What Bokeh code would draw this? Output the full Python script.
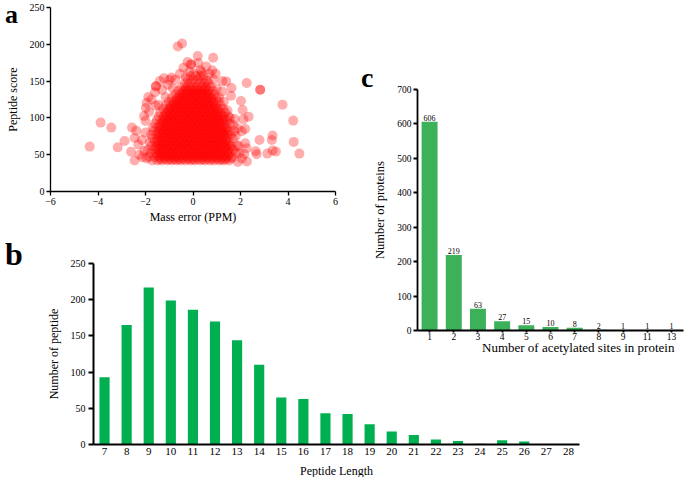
from bokeh.plotting import figure
from bokeh.models import FixedTicker, FactorRange, Range1d, Div
from bokeh.embed import file_html
from bokeh.resources import INLINE
from bokeh.core.properties import value

SERIF = "Liberation Serif"

# ---------------- panel a: mass error vs peptide score ----------------
core_rows = {
    42: [-1.72, -1.5, -1.31, -1.08, -0.9, -0.7, -0.52, -0.31, -0.1, 0.08, 0.3, 0.49, 0.71, 0.9, 1.12, 1.3, 1.52],
    47: [-1.85, -1.62, -1.41, -1.2, -1.01, -0.8, -0.61, -0.4, -0.2, 0.01, 0.19, 0.41, 0.6, 0.82, 1.0, 1.21, 1.42, 1.63],
    52: [-1.78, -1.55, -1.35, -1.12, -0.93, -0.72, -0.5, -0.29, -0.08, 0.12, 0.33, 0.52, 0.74, 0.93, 1.14, 1.33, 1.55, 1.8],
    57: [-1.9, -1.66, -1.44, -1.24, -1.03, -0.82, -0.6, -0.41, -0.19, 0.02, 0.22, 0.43, 0.63, 0.85, 1.04, 1.25, 1.47, 1.7],
    62: [-1.75, -1.53, -1.33, -1.1, -0.9, -0.7, -0.49, -0.28, -0.07, 0.13, 0.34, 0.55, 0.75, 0.96, 1.16, 1.38, 1.6, 1.92],
    67: [-1.82, -1.6, -1.38, -1.18, -0.97, -0.78, -0.56, -0.36, -0.15, 0.05, 0.26, 0.46, 0.67, 0.88, 1.08, 1.3, 1.52],
    72: [-1.7, -1.48, -1.28, -1.05, -0.86, -0.64, -0.44, -0.23, -0.02, 0.18, 0.39, 0.6, 0.8, 1.01, 1.22, 1.43, 1.68],
    77: [-1.76, -1.55, -1.34, -1.13, -0.92, -0.71, -0.5, -0.3, -0.09, 0.11, 0.32, 0.52, 0.73, 0.94, 1.15, 1.36, 1.58],
    82: [-1.65, -1.43, -1.22, -1.0, -0.8, -0.59, -0.38, -0.17, 0.03, 0.24, 0.45, 0.66, 0.87, 1.07, 1.28, 1.5, 1.75],
    87: [-1.7, -1.49, -1.27, -1.07, -0.86, -0.65, -0.45, -0.24, -0.04, 0.17, 0.38, 0.58, 0.79, 1.0, 1.21, 1.42],
    92: [-1.6, -1.38, -1.17, -0.96, -0.75, -0.54, -0.33, -0.13, 0.08, 0.29, 0.5, 0.71, 0.92, 1.12, 1.33, 1.56],
    97: [-1.52, -1.3, -1.1, -0.89, -0.68, -0.47, -0.26, -0.05, 0.15, 0.36, 0.57, 0.78, 0.99, 1.2, 1.42],
    102: [-1.45, -1.24, -1.03, -0.82, -0.61, -0.4, -0.19, 0.02, 0.22, 0.43, 0.64, 0.85, 1.06, 1.27, 1.5],
    107: [-1.38, -1.16, -0.95, -0.74, -0.53, -0.32, -0.11, 0.1, 0.31, 0.52, 0.73, 0.94, 1.15, 1.36],
    112: [-1.25, -1.04, -0.83, -0.62, -0.41, -0.2, 0.01, 0.22, 0.43, 0.64, 0.85, 1.06, 1.28],
    117: [-1.15, -0.94, -0.73, -0.52, -0.31, -0.1, 0.11, 0.32, 0.53, 0.74, 0.95, 1.17],
    122: [-1.02, -0.81, -0.6, -0.39, -0.18, 0.03, 0.24, 0.45, 0.66, 0.87, 1.08],
    127: [-0.9, -0.69, -0.48, -0.27, -0.06, 0.15, 0.36, 0.57, 0.78, 0.98],
    132: [-0.75, -0.54, -0.33, -0.12, 0.09, 0.3, 0.51, 0.72, 0.9],
    137: [-0.62, -0.41, -0.2, 0.01, 0.22, 0.43, 0.64, 0.84],
    142: [-0.48, -0.27, -0.06, 0.15, 0.36, 0.57, 0.75],
    147: [-0.35, -0.14, 0.07, 0.28, 0.49, 0.66],
    152: [-0.22, 0.0, 0.21, 0.42],
    157: [-0.1, 0.12, 0.32],
}

inner_rows = {
    44: [-1.4, -1.19, -0.98, -0.79, -0.6, -0.41, -0.2, 0.0, 0.2, 0.4, 0.6, 0.8, 1.02, 1.21, 1.4],
    49: [-1.5, -1.3, -1.1, -0.9, -0.7, -0.5, -0.3, -0.1, 0.1, 0.3, 0.5, 0.7, 0.9, 1.1, 1.31, 1.5],
    54: [-1.45, -1.24, -1.03, -0.83, -0.62, -0.4, -0.19, 0.02, 0.23, 0.43, 0.64, 0.84, 1.04, 1.24, 1.44],
    59: [-1.55, -1.34, -1.14, -0.93, -0.71, -0.5, -0.3, -0.09, 0.12, 0.32, 0.53, 0.73, 0.95, 1.15, 1.36, 1.58],
    64: [-1.43, -1.22, -1.0, -0.8, -0.6, -0.39, -0.18, 0.03, 0.24, 0.44, 0.65, 0.86, 1.06, 1.27, 1.48],
    69: [-1.5, -1.28, -1.07, -0.87, -0.66, -0.46, -0.25, -0.05, 0.16, 0.36, 0.57, 0.77, 0.98, 1.19, 1.4],
    74: [-1.38, -1.17, -0.96, -0.75, -0.54, -0.33, -0.12, 0.08, 0.29, 0.5, 0.7, 0.91, 1.12, 1.32],
    79: [-1.45, -1.24, -1.03, -0.82, -0.61, -0.4, -0.2, 0.01, 0.21, 0.42, 0.62, 0.83, 1.04, 1.25, 1.46],
    84: [-1.33, -1.12, -0.91, -0.7, -0.49, -0.28, -0.07, 0.13, 0.34, 0.55, 0.76, 0.97, 1.17, 1.38],
    89: [-1.38, -1.17, -0.96, -0.75, -0.55, -0.34, -0.14, 0.07, 0.27, 0.48, 0.69, 0.89, 1.1, 1.31],
    94: [-1.27, -1.06, -0.85, -0.64, -0.43, -0.23, -0.02, 0.19, 0.39, 0.6, 0.81, 1.02, 1.23],
    99: [-1.2, -0.99, -0.78, -0.57, -0.36, -0.15, 0.05, 0.26, 0.47, 0.67, 0.88, 1.09, 1.3],
    104: [-1.13, -0.92, -0.71, -0.5, -0.29, -0.08, 0.12, 0.33, 0.54, 0.75, 0.96, 1.16],
    109: [-1.05, -0.84, -0.63, -0.42, -0.21, 0.0, 0.2, 0.41, 0.62, 0.83, 1.04],
    114: [-0.93, -0.72, -0.51, -0.3, -0.09, 0.12, 0.33, 0.54, 0.75, 0.96],
    119: [-0.83, -0.62, -0.41, -0.2, 0.01, 0.22, 0.43, 0.64, 0.85],
    124: [-0.7, -0.49, -0.28, -0.07, 0.14, 0.35, 0.56, 0.77],
    129: [-0.58, -0.37, -0.16, 0.05, 0.26, 0.47, 0.68],
    134: [-0.44, -0.23, -0.02, 0.19, 0.4, 0.6],
    139: [-0.3, -0.09, 0.12, 0.33, 0.52],
}

outer_x = [-4.35, -3.89, -3.44, -3.17, -2.88, -2.61, -2.57, -2.46, -2.39, -2.30, -2.46, -2.13,
           -2.06, -1.99, -1.88, -1.95, -1.56, -1.56, -1.57, -1.22, -1.0, -0.64, -0.46, -0.23,
           -0.08, -0.08, 0.20, 0.22, 0.85, 0.81, 0.37, 0.05, 0.86, 1.24, 1.40, 1.62, 1.23,
           2.26, 2.83, 2.83, 2.02, 3.77, 2.09, 2.34, 2.12, 1.76, 4.22, 1.88, 2.20, 2.05, 2.80,
           3.35, 3.32, 4.24, 2.20, 2.26, 2.16, 2.27, 2.64, 2.68, 3.13, 3.35, 3.49, 4.48, 1.89,
           1.62,
           -2.0, -1.85, -1.75, -1.6, -1.45, -1.3, -1.15, -1.05, -0.85, -0.75, -0.55, -0.4,
           -0.3, -0.15, 0.45, 0.6, 0.7, 1.0, 1.1, 1.3, 1.45, 1.55, 1.7, 1.8, 1.85, 1.95, 2.05,
           -2.05, -2.15, -2.0, -1.95, -2.25, 1.6, 0.95, -0.9, -1.4, 0.55, 0.3]
outer_y = [61, 93.6, 86.8, 60, 68.7, 54, 86.8, 72.8, 82.7, 63.7, 42, 46.6,
           102.6, 113.5, 128.4, 120.7, 142.9, 142.9, 116.6, 154, 151.4, 197, 201, 176,
           172.7, 172.7, 184, 174.5, 181.7, 164.6, 162.7, 160, 152.3, 150, 149.6, 140.6, 136,
           147.4, 138.3, 138.3, 123, 118, 110.8, 101.7, 98, 98.6, 96.3, 85.9, 85, 81.8, 70,
           76, 70, 67.4, 65.6, 58.8, 51, 40.7, 54.7, 50.6, 51.5, 55.6, 54.2, 51.5, 40.2,
           45,
           96, 108, 125, 135, 118, 138, 128, 145, 140, 152, 160, 168,
           155, 163, 158, 150, 160, 140, 128, 122, 110, 100, 90, 75, 62, 52, 45,
           55, 70, 80, 45, 50, 130, 160, 155, 150, 170, 165]

score_x = ([x for yy, xs in core_rows.items() for x in xs]
           + [x for yy, xs in inner_rows.items() for x in xs] + outer_x)
score_y = ([yy for yy, xs in core_rows.items() for x in xs]
           + [yy for yy, xs in inner_rows.items() for x in xs] + outer_y)

# ---------------- panel b: peptide length ----------------
pep_lengths = ["7", "8", "9", "10", "11", "12", "13", "14", "15", "16", "17", "18",
               "19", "20", "21", "22", "23", "24", "25", "26", "27", "28"]
pep_counts = [93, 165, 217, 199, 186, 170, 144, 110, 65, 63, 43, 42,
              28, 18, 13, 7, 5, 1, 6, 4, 0, 0]

# ---------------- panel c: acetylated sites per protein ----------------
site_labels = ["1", "2", "3", "4", "5", "6", "7", "8", "9", "11", "13"]
protein_counts = [606, 219, 63, 27, 15, 10, 8, 2, 1, 1, 1]


def style_axis(ax, lw, tick_size, label_size, tick_out, lab_standoff, ax_standoff):
    ax.axis_line_color = "black"
    ax.axis_line_width = lw
    ax.major_tick_line_color = "black"
    ax.major_tick_line_width = lw
    ax.major_tick_out = tick_out
    ax.major_tick_in = 0
    ax.minor_tick_line_color = None
    ax.major_label_text_font = SERIF
    ax.major_label_text_font_size = tick_size
    ax.major_label_text_color = "black"
    ax.major_label_standoff = lab_standoff
    ax.axis_label_text_font = SERIF
    ax.axis_label_text_font_style = "normal"
    ax.axis_label_text_font_size = label_size
    ax.axis_label_text_color = "black"
    ax.axis_label_standoff = ax_standoff


def base(p, left, top):
    p.grid.visible = False
    p.outline_line_color = None
    p.background_fill_color = None
    p.border_fill_color = None
    p.styles = {"position": "absolute", "left": f"{left}px", "top": f"{top}px"}


def text_div(text, left, top, size, bold=False, line_height="1"):
    return Div(text=text, styles={
        "position": "absolute", "left": f"{left}px", "top": f"{top}px",
        "font-family": SERIF, "font-size": size, "line-height": line_height,
        "font-weight": "bold" if bold else "normal", "color": "black",
        "white-space": "nowrap", "margin": "0", "padding": "0",
        "overflow": "visible"})


# ----- figure a -----
pa = figure(frame_width=285, frame_height=184, min_border_left=50, min_border_right=10,
            min_border_top=7, min_border_bottom=34, x_range=Range1d(-6, 6), y_range=Range1d(0, 250),
            output_backend="svg", toolbar_location=None)
base(pa, 0, 0)
pa.scatter(score_x, score_y, size=10, fill_color="#ff0000", fill_alpha=0.32, line_color=None)
pa.xaxis.ticker = FixedTicker(ticks=[-6, -4, -2, 0, 2, 4, 6])
pa.yaxis.ticker = FixedTicker(ticks=[0, 50, 100, 150, 200, 250])
pa.xaxis.axis_label = "Mass error (PPM)"
pa.yaxis.axis_label = "Peptide score"
style_axis(pa.xaxis[0], 1.3, "10px", "12px", 4, 2, 2)
style_axis(pa.yaxis[0], 1.3, "10px", "12px", 4, 2, 7)

# ----- figure c -----
pc = figure(frame_width=266, frame_height=241, min_border_left=72, min_border_right=2,
            min_border_top=29, min_border_bottom=30,
            x_range=FactorRange(factors=site_labels, range_padding=0), y_range=Range1d(0, 700),
            output_backend="svg", toolbar_location=None)
base(pc, 345, 60)
pc.vbar(x=site_labels, top=protein_counts, width=0.66, fill_color="#3cb15a", line_color=None)
pc.text(x=site_labels, y=protein_counts, text=[str(v) for v in protein_counts],
        text_font=value(SERIF), text_font_size="8px", text_align="center",
        text_baseline="bottom", y_offset=-1, text_color="black")
pc.yaxis.ticker = FixedTicker(ticks=[0, 100, 200, 300, 400, 500, 600, 700])
pc.yaxis.axis_label = "Number of proteins"
style_axis(pc.xaxis[0], 1.8, "9.5px", "12px", 2, 0, 0)
style_axis(pc.yaxis[0], 1.8, "9.5px", "12.5px", 4, 2, 7)

# ----- figure b -----
pb = figure(frame_width=486, frame_height=181, min_border_left=93, min_border_right=6,
            min_border_top=38, min_border_bottom=33,
            x_range=FactorRange(factors=pep_lengths, range_padding=0), y_range=Range1d(0, 250),
            output_backend="svg", toolbar_location=None)
base(pb, 0, 225)
pb.vbar(x=pep_lengths, top=pep_counts, width=0.46, fill_color="#00b050", line_color=None)
pb.yaxis.ticker = FixedTicker(ticks=[0, 50, 100, 150, 200, 250])
pb.xaxis.axis_label = "Peptide Length"
pb.yaxis.axis_label = "Number of peptide"
style_axis(pb.xaxis[0], 2, "11px", "12px", 0, 3, 6)
pb.xaxis.major_tick_line_color = None
style_axis(pb.yaxis[0], 2, "10px", "12px", 5, 3, 7)

# ----- panel letters and the x label of panel c -----
letter_a = text_div("a", 5, 2, "26px", bold=True)
letter_b = text_div("b", 5, 238, "32px", bold=True)
letter_c = text_div("c", 361, 64, "28px", bold=True)
label_c = text_div("Number of acetylated sites in protein", 482, 341, "13px")

open("out.html", "w").write(file_html([pa, pc, pb, letter_a, letter_b, letter_c, label_c], INLINE))
